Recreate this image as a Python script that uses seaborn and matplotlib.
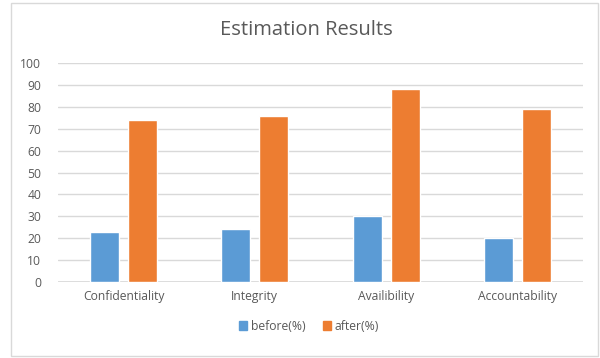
import matplotlib
matplotlib.use("Agg")
import matplotlib.pyplot as plt
import matplotlib.patches as mpatches
import seaborn as sns
import pandas as pd

categories = ["Confidentiality", "Integrity", "Availibility", "Accountability"]
before_pct = [23, 24, 30, 20]
after_pct = [74, 76, 88, 79]
series_names = ["before(%)", "after(%)"]
y_ticks = [0, 10, 20, 30, 40, 50, 60, 70, 80, 90, 100]

colors = ["#5B9BD5", "#ED7D31"]
text_color = "#595959"
grid_color = "#D9D9D9"

df = pd.DataFrame({
    "category": categories * 2,
    "value": before_pct + after_pct,
    "series": [series_names[0]] * 4 + [series_names[1]] * 4,
})

sns.set_theme(style="white")
plt.rcParams["font.family"] = ["Open Sans", "DejaVu Sans"]

W, H = 600, 358
fig = plt.figure(figsize=(W / 100, H / 100), dpi=100)
ax = fig.add_axes([58 / W, 1 - 282 / H, (583 - 58) / W, (282 - 63) / H])

sns.barplot(data=df, x="category", y="value", hue="series", order=categories,
            hue_order=series_names, palette=colors, width=0.58, gap=0.24,
            saturation=1, ax=ax, legend=False)

ax.set_ylim(0, 100)
ax.set_xlim(-0.5, 3.5)
ax.set_yticks(y_ticks)
ax.set_yticklabels([str(t) for t in y_ticks])
ax.yaxis.grid(True, color=grid_color, linewidth=1)
ax.set_axisbelow(True)
for s in ax.spines.values():
    s.set_visible(False)
ax.axhline(0, color=grid_color, linewidth=1.2, zorder=0.5)
ax.set_xlabel("")
ax.set_ylabel("")
ax.tick_params(axis="y", length=0, pad=12, labelsize=8.7, labelcolor=text_color)
ax.tick_params(axis="x", length=0, pad=6, labelsize=8.7, labelcolor=text_color)

fig.text(306 / W, 1 - 30 / H, "Estimation Results", ha="center", va="center",
         fontsize=14.5, color=text_color)

handles = [mpatches.Patch(color=c, label=n) for c, n in zip(colors, series_names)]
fig.legend(handles=handles, loc="center", bbox_to_anchor=(309 / W, 1 - 326 / H),
           ncol=2, frameon=False, fontsize=8.7, labelcolor=text_color,
           handlelength=0.7, handleheight=0.7, handletextpad=0.3, columnspacing=1.4)

# outer chart frame
fig.add_artist(mpatches.Rectangle((11 / W, 2 / H), (W - 13) / W, (H - 5) / H,
                                  transform=fig.transFigure, fill=False,
                                  edgecolor="#D9D9D9", linewidth=1))

fig.savefig("out.png", dpi=100, facecolor="white")
